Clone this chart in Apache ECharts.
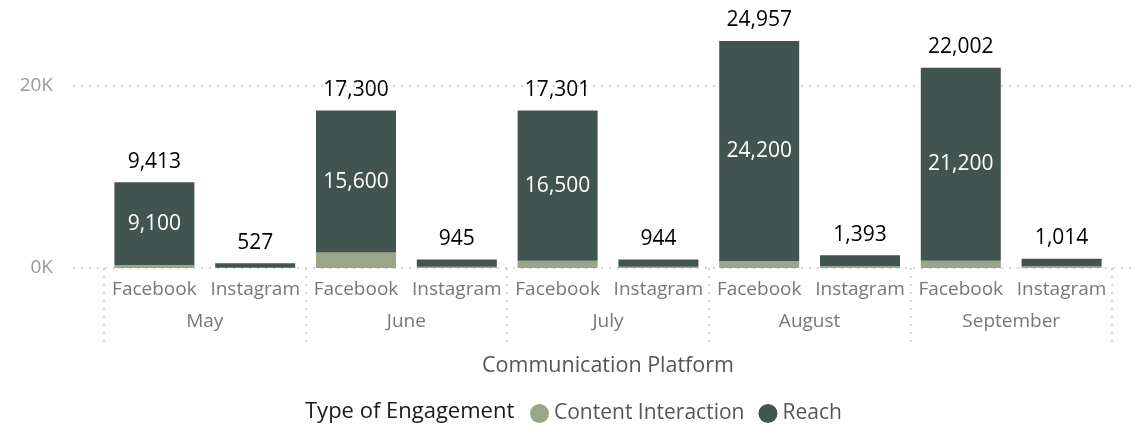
<!DOCTYPE html>
<html>
<head>
<meta charset="utf-8">
<script src="https://cdn.jsdelivr.net/npm/echarts@6/dist/echarts.min.js"></script>
<style>
  html, body { margin: 0; padding: 0; background: #fff; }
  #chart { width: 1147px; height: 430px; }
</style>
</head>
<body>
<div id="chart"></div>
<script>
const months = ['May', 'June', 'July', 'August', 'September'];
const platforms = ['Facebook', 'Instagram', 'Facebook', 'Instagram', 'Facebook', 'Instagram', 'Facebook', 'Instagram', 'Facebook', 'Instagram'];
const contentInteraction = [313, 40, 1700, 150, 801, 150, 757, 200, 802, 180];
const reach = [9100, 487, 15600, 795, 16500, 794, 24200, 1193, 21200, 834];
const totals = [9413, 527, 17300, 945, 17301, 944, 24957, 1393, 22002, 1014];
const yTickValues = [0, 20000];

const FONT = 'Open Sans';
const fmt = v => v.toLocaleString('en-US');

const chart = echarts.init(document.getElementById('chart'), null, { renderer: 'canvas' });

// pixel scale: 20000 units = 182 px; zero line at y = 268
const GRID_BOTTOM = 162;
const AXIS_MAX = 20000, AXIS_TOP = 86;
const BAR_MAX = 28000, BAR_TOP = 430 - GRID_BOTTOM - 182 * BAR_MAX / 20000;

chart.setOption({
  animation: false,
  textStyle: { fontFamily: FONT },
  grid: [
    { left: 73, right: 12, top: AXIS_TOP, bottom: GRID_BOTTOM, containLabel: false },
    { left: 104, right: 35, top: BAR_TOP, bottom: GRID_BOTTOM, containLabel: false }
  ],
  xAxis: [
    { gridIndex: 0, type: 'value', min: 0, max: 1, show: false },
    {
      gridIndex: 1, type: 'category', data: platforms, position: 'bottom',
      axisLine: { show: false }, axisTick: { show: false },
      axisLabel: { interval: 0, margin: 12, color: '#777', fontSize: 19, fontFamily: FONT }
    },
    {
      gridIndex: 1, type: 'category', data: months, position: 'bottom',
      axisLine: { show: false },
      axisTick: { show: true, length: 74, interval: 0, lineStyle: { color: '#c8c8c8', width: 1.5, type: [2, 6] } },
      axisLabel: { interval: 0, margin: 44, color: '#777', fontSize: 19, fontFamily: FONT },
      name: 'Communication Platform', nameLocation: 'middle', nameGap: 87,
      nameTextStyle: { color: '#555', fontSize: 21.5, fontFamily: FONT }
    }
  ],
  yAxis: [
    {
      gridIndex: 0, type: 'value', min: 0, max: AXIS_MAX, interval: 20000,
      axisLine: { show: false }, axisTick: { show: false },
      axisLabel: {
        margin: 20, color: '#999', fontSize: 19, fontFamily: FONT,
        formatter: v => (yTickValues.indexOf(v) >= 0 ? (v / 1000) + 'K' : '')
      },
      splitLine: { show: true, lineStyle: { color: '#c8c8c8', width: 1.5, type: [2, 6] } }
    },
    { gridIndex: 1, type: 'value', min: 0, max: BAR_MAX, show: false, splitLine: { show: false } }
  ],
  legend: {
    left: 530, top: 403, padding: 0,
    itemWidth: 19, itemHeight: 19, itemGap: 14,
    icon: 'circle',
    textStyle: { color: '#555', fontSize: 21, fontFamily: FONT },
    data: ['Content Interaction', 'Reach']
  },
  graphic: [
    {
      type: 'text', left: 305, top: 401,
      style: { text: 'Type of Engagement', fill: '#1a1a1a', fontSize: 22, fontFamily: FONT }
    }
  ],
  series: [
    {
      name: 'Content Interaction', type: 'bar', stack: 'eng',
      xAxisIndex: 1, yAxisIndex: 1, barWidth: 80,
      itemStyle: { color: '#99a688' },
      data: contentInteraction
    },
    {
      name: 'Reach', type: 'bar', stack: 'eng',
      xAxisIndex: 1, yAxisIndex: 1, barWidth: 80,
      itemStyle: { color: '#425450' },
      label: {
        show: true, position: 'inside', color: '#fff', fontSize: 21, fontFamily: FONT,
        formatter: p => (p.name === 'Facebook' ? fmt(p.value) : '')
      },
      data: reach
    },
    {
      name: 'Total', type: 'bar', stack: 'eng',
      xAxisIndex: 1, yAxisIndex: 1, barWidth: 80,
      itemStyle: { color: 'rgba(0,0,0,0)' },
      label: {
        show: true, position: 'top', distance: 10, color: '#000', fontSize: 21, fontFamily: FONT,
        formatter: p => fmt(totals[p.dataIndex])
      },
      data: totals.map(() => 0)
    }
  ]
});
</script>
</body>
</html>
